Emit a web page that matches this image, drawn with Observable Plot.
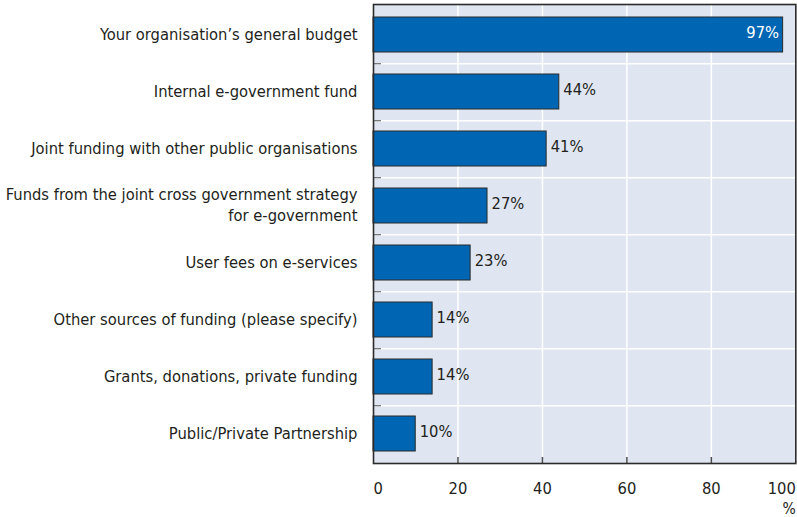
<!DOCTYPE html>
<html>
<head>
<meta charset="utf-8">
<script src="https://cdn.jsdelivr.net/npm/d3@7"></script>
<script src="https://cdn.jsdelivr.net/npm/@observablehq/plot@0.6"></script>
<style>
  html, body { margin: 0; padding: 0; background: #ffffff; }
  #chart { width: 797px; height: 517px; }
  svg { font-family: "Liberation Sans Narrow", "DejaVu Sans Condensed", "Roboto Condensed", sans-serif; }
</style>
</head>
<body>
<div id="chart"></div>
<script>
const categories = [
  "Your organisation’s general budget",
  "Internal e-government fund",
  "Joint funding with other public organisations",
  "Funds from the joint cross government strategy\nfor e-government",
  "User fees on e-services",
  "Other sources of funding (please specify)",
  "Grants, donations, private funding",
  "Public/Private Partnership"
];
const values = [97, 44, 41, 27, 23, 14, 14, 10];
const xTicks = [0, 20, 40, 60, 80, 100];
const unitLabel = "%";

const data = categories.map((c, i) => ({category: c, value: values[i]}));

const W = 797, H = 517;
const mT = 4, mB = 54, mL = 373, mR = 1.7;
const frameH = H - mT - mB;
const frameW = W - mL - mR;
const step = frameH / categories.length;
const textColor = "#231f20";
const fs = 16.4;

const chart = Plot.plot({
  width: W,
  height: H,
  marginTop: mT,
  marginBottom: mB,
  marginLeft: mL,
  marginRight: mR,
  style: {fontSize: fs + "px", color: textColor, background: "white", overflow: "visible"},
  x: {domain: [0, 100], axis: null},
  y: {domain: categories, axis: null, paddingInner: 0.39, paddingOuter: 0.195},
  marks: [
    Plot.frame({fill: "#dfe6f1", stroke: null}),
    Plot.ruleX(xTicks.slice(1, -1), {x: d => d, stroke: "white", strokeWidth: 1.5}),
    Plot.ruleY(categories.slice(0, -1), {y: d => d, dy: step / 2, stroke: "white", strokeWidth: 1.5}),
    Plot.ruleY(categories.slice(0, -1), {y: d => d, dy: step / 2, stroke: "#6d6e71", strokeWidth: 1.2, insetRight: frameW - 8}),
    Plot.ruleX(xTicks.slice(1, -1), {x: d => d, stroke: "#4d4d4f", strokeWidth: 1.5, insetTop: frameH - 6}),
    Plot.barX(data, {y: "category", x: "value", fill: "#0066b3", stroke: "#2b2b2b", strokeWidth: 1}),
    Plot.text(data.filter(d => d.value >= 90), {y: "category", x: "value", text: d => d.value + "%", textAnchor: "end", dx: -4, dy: -2, fill: "white", fontSize: fs}),
    Plot.text(data.filter(d => d.value < 90), {y: "category", x: "value", text: d => d.value + "%", textAnchor: "start", dx: 4, dy: -2, fill: textColor, fontSize: fs}),
    Plot.text(categories, {y: d => d, text: d => d, frameAnchor: "left", textAnchor: "end", dx: -16, dy: -2, lineHeight: 1.25, fill: textColor, fontSize: fs}),
    Plot.text(xTicks.filter(t => t === 0), {x: d => d, text: d => String(d), frameAnchor: "bottom", dy: 30, textAnchor: "start", fill: textColor, fontSize: fs}),
    Plot.text(xTicks.filter(t => t > 0 && t < 100), {x: d => d, text: d => String(d), frameAnchor: "bottom", dy: 30, textAnchor: "middle", fill: textColor, fontSize: fs}),
    Plot.text(xTicks.filter(t => t === 100), {x: d => d, text: d => String(d), frameAnchor: "bottom", dy: 30, textAnchor: "end", fill: textColor, fontSize: fs}),
    Plot.text([unitLabel], {text: d => d, frameAnchor: "bottom-right", dy: 50, textAnchor: "end", fill: textColor, fontSize: 15.5}),
    Plot.frame({stroke: "#2b2b2b", strokeWidth: 1.6})
  ]
});
document.getElementById("chart").appendChild(chart);
</script>
</body>
</html>
